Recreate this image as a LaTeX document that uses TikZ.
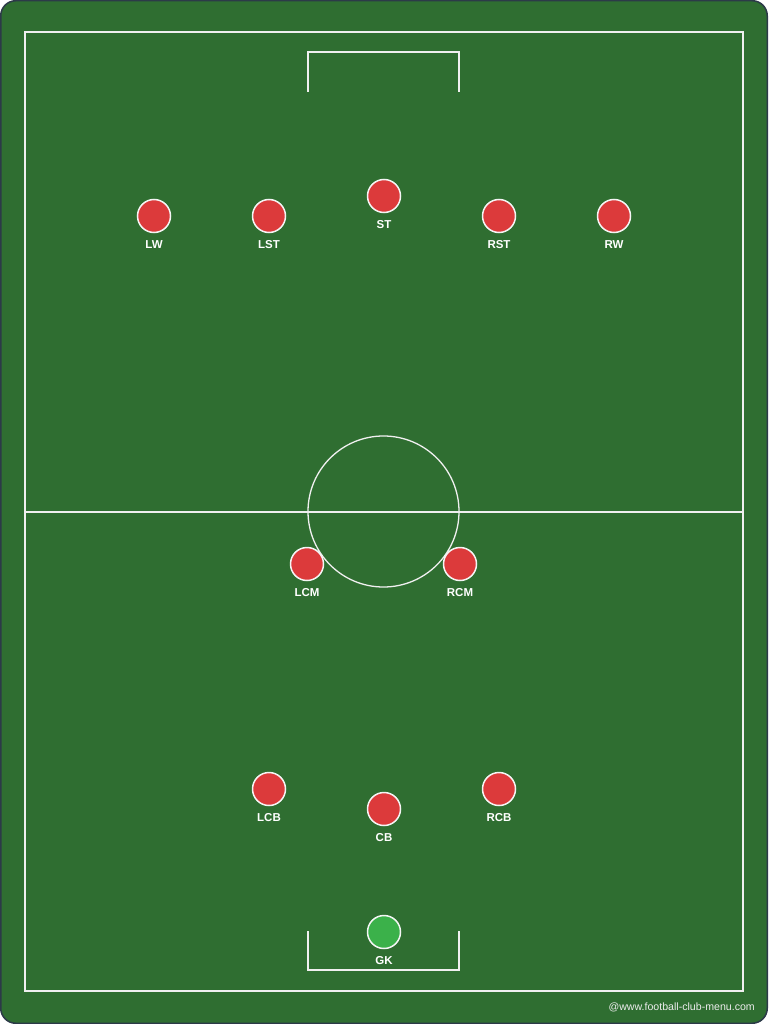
\documentclass[tikz,border=0pt]{standalone}
\usepackage{fontspec}
\setmainfont{Liberation Sans}
\usetikzlibrary{positioning}
\definecolor{pitchgreen}{HTML}{2F6E31}
\definecolor{pitchedge}{HTML}{2C3A48}
\definecolor{playerred}{HTML}{DC3A3B}
\definecolor{keepergreen}{HTML}{3BB14A}
\tikzset{
  pitchline/.style={draw=white!88!gray, line width=1.3pt},
  player/.style={circle, draw=white!92!gray, line width=1.5pt, fill=playerred, minimum size=33pt, inner sep=0pt},
  keeper/.style={player, fill=keepergreen},
  poslabel/.style={text=white, font=\bfseries\fontsize{11.5}{12}\selectfont, inner sep=0pt}
}
\begin{document}
\begin{tikzpicture}[x=1pt,y=-1pt]
    \useasboundingbox (0,0) rectangle (768,1024);
    % background and pitch
    \draw [fill=pitchgreen, draw=pitchedge, line width=1.5pt, rounded corners=15pt] (0.75,0.75) rectangle (767.25,1023.25);
    \draw [pitchline] (25,32) rectangle (743,991);
    \draw [pitchline] (25,512) -- (743,512);
    \draw [pitchline] (383.5,511.5) circle (75.5);
    \draw [pitchline] (308,92) -- (308,52) -- (459,52) -- (459,92);
    \draw [pitchline] (308,931) -- (308,970) -- (459,970) -- (459,931);
    % forwards
    \node [player] (LW) at (154,216) {};
    \node [player] (LST) at (269,216) {};
    \node [player] (ST) at (384,196) {};
    \node [player] (RST) at (499,216) {};
    \node [player] (RW) at (614,216) {};
    % midfield
    \node [player] (LCM) at (307,564) {};
    \node [player] (RCM) at (460,564) {};
    % defence
    \node [player] (LCB) at (269,789) {};
    \node [player] (CB) at (384,809) {};
    \node [player] (RCB) at (499,789) {};
    \node [keeper] (GK) at (384,932) {};
    % labels
    \foreach \p in {LW,LST,ST,RST,RW,LCM,RCM,LCB,CB,RCB,GK}
        \node [poslabel, below=7.5pt of \p] (\p-label) {\p};
    \node [text=white!85!gray, font=\fontsize{10.6}{12}\selectfont, anchor=east, inner sep=0pt] (credit) at (755,1007) {@www.football-club-menu.com};
\end{tikzpicture}
\end{document}
